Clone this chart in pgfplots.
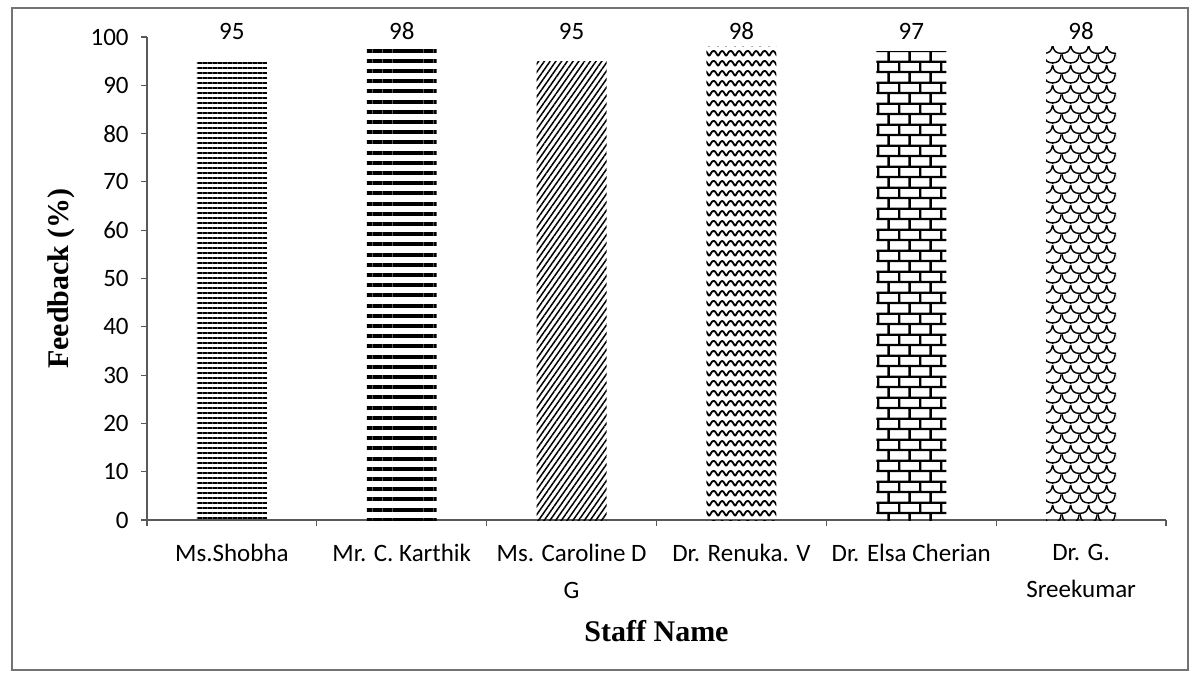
\documentclass[border=0pt]{standalone}
\usepackage{fontspec}
\setmainfont{Carlito}
\newfontfamily\tnr{Liberation Serif}
\usepackage{pgfplots}
\pgfplotsset{compat=1.18}
\usetikzlibrary{patterns,patterns.meta}

\tikzdeclarepattern{
  name=mywaves,
  type=uncolored,
  bottom left={(0pt,0pt)},
  top right={(8.5pt,4.85pt)},
  tile size={(8.5pt,4.85pt)},
  code={
    \draw[line width=0.95pt, line join=round]
      (-0.5pt,3.4pt) -- (0pt,3.6pt) .. controls (1pt,3.6pt) and (1.6pt,1.2pt) .. (2.125pt,1.2pt)
      .. controls (2.65pt,1.2pt) and (3.25pt,3.6pt) .. (4.25pt,3.6pt)
      .. controls (5.25pt,3.6pt) and (5.85pt,1.2pt) .. (6.375pt,1.2pt)
      .. controls (6.9pt,1.2pt) and (7.5pt,3.6pt) .. (8.5pt,3.6pt) -- (9pt,3.4pt);
  }
}

\tikzdeclarepattern{
  name=mybricks,
  type=uncolored,
  bottom left={(0pt,0pt)},
  top right={(10.4pt,10.3pt)},
  tile size={(10.4pt,10.3pt)},
  code={
    \draw[line width=1.15pt]
      (-1pt,2.575pt) -- (11.4pt,2.575pt)
      (-1pt,7.725pt) -- (11.4pt,7.725pt)
      (2.6pt,2.575pt) -- (2.6pt,7.725pt)
      (7.8pt,7.725pt) -- (7.8pt,11pt)
      (7.8pt,-1pt) -- (7.8pt,2.575pt);
  }
}

\tikzdeclarepattern{
  name=myscales,
  type=uncolored,
  bottom left={(0pt,0pt)},
  top right={(9pt,10pt)},
  tile size={(9pt,10pt)},
  code={
    \draw[line width=0.75pt]
      (0pt,5pt) .. controls (0.5pt,1.5pt) and (2pt,0.6pt) .. (4.5pt,0.6pt)
                .. controls (7pt,0.6pt) and (8.5pt,1.5pt) .. (9pt,5pt)
      (-4.5pt,10pt) .. controls (-4pt,6.5pt) and (-2.5pt,5.6pt) .. (0pt,5.6pt)
                .. controls (2.5pt,5.6pt) and (4pt,6.5pt) .. (4.5pt,10pt)
      (4.5pt,10pt) .. controls (5pt,6.5pt) and (6.5pt,5.6pt) .. (9pt,5.6pt)
                .. controls (11.5pt,5.6pt) and (13pt,6.5pt) .. (13.5pt,10pt)
      (-4.5pt,0pt) .. controls (-4pt,-3.5pt) and (-2.5pt,-4.4pt) .. (0pt,-4.4pt)
                .. controls (2.5pt,-4.4pt) and (4pt,-3.5pt) .. (4.5pt,0pt)
      (4.5pt,0pt) .. controls (5pt,-3.5pt) and (6.5pt,-4.4pt) .. (9pt,-4.4pt)
                .. controls (11.5pt,-4.4pt) and (13pt,-3.5pt) .. (13.5pt,0pt);
  }
}

\begin{document}
\begin{tikzpicture}
\begin{axis}[
  name=ax,
  scale only axis,
  width=509.5pt, height=241.5pt,
  xmin=-0.5, xmax=5.5, ymin=0, ymax=100,
  axis lines=left,
  axis line style={-, black!65, line width=0.6pt},
  clip=false,
  xtick={-0.5,0.5,1.5,2.5,3.5,4.5,5.5},
  x tick label as interval,
  xticklabels={Ms.Shobha, Mr. C. Karthik, {Ms. Caroline D\\G}, Dr. Renuka. V, Dr. Elsa Cherian, {Dr. G.\\Sreekumar}},
  ytick={0,10,...,100},
  tick align=outside,
  major tick length=3pt,
  tick style={black!65, line width=0.6pt},
  /pgf/number format/assume math mode=true,
  yticklabel style={font=\fontsize{12.5}{15}\selectfont, inner sep=0pt, xshift=-6pt},
  xticklabel style={font=\fontsize{12.5}{18.5}\selectfont, align=center, inner sep=0pt, anchor=north, yshift=-9pt},
  xlabel={Staff Name},
  ylabel={Feedback (\%)},
  xlabel style={font=\tnr\bfseries\fontsize{15}{18}\selectfont, at={(axis description cs:0.5,0)}, anchor=north, inner sep=0pt, yshift=-50pt},
  ylabel style={font=\tnr\bfseries\fontsize{15}{18}\selectfont, at={(axis description cs:0,0.5)}, anchor=center, yshift=43pt},
]
\addplot[ybar, bar width=0.412, bar shift=0pt, draw=none, pattern={Lines[angle=0,distance=2.5pt,line width=1.2pt]}, pattern color=black] coordinates {(0,95)};
\addplot[ybar, bar width=0.412, bar shift=0pt, draw=none, pattern={Lines[angle=0,distance=5.1pt,line width=2pt]}, pattern color=black] coordinates {(1,98)};
\addplot[ybar, bar width=0.412, bar shift=0pt, draw=none, pattern={Lines[angle=55,distance=2.35pt,line width=0.75pt]}, pattern color=black] coordinates {(2,95)};
\addplot[ybar, bar width=0.412, bar shift=0pt, draw=none, pattern=mywaves, pattern color=black] coordinates {(3,98)};
\addplot[ybar, bar width=0.412, bar shift=0pt, draw=none, pattern=mybricks, pattern color=black] coordinates {(4,97)};
\addplot[ybar, bar width=0.412, bar shift=0pt, draw=none, pattern=myscales, pattern color=black] coordinates {(5,98)};
\addplot[draw=none, mark=none, nodes near coords, point meta=explicit symbolic,
  every node near coord/.append style={anchor=center, font=\fontsize{12.5}{15}\selectfont, text=black}]
  coordinates {(0,101.2) [95] (1,101.2) [98] (2,101.2) [95] (3,101.2) [98] (4,101.2) [97] (5,101.2) [98]};
\end{axis}
\draw[black!55, line width=0.6pt] ([shift={(-67.5pt,-75pt)}]ax.south west) rectangle ([shift={(11pt,14.5pt)}]ax.north east);
\pgfresetboundingbox
\path[use as bounding box] ([shift={(-73.5pt,-81.5pt)}]ax.south west) rectangle ([shift={(13pt,18.5pt)}]ax.north east);
\end{tikzpicture}
\end{document}
